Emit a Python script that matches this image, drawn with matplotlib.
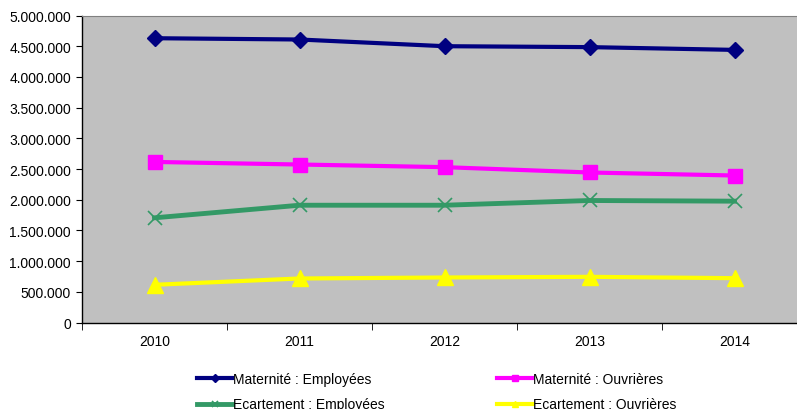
import matplotlib
matplotlib.use("Agg")
import matplotlib.pyplot as plt
from matplotlib.ticker import FuncFormatter, FixedLocator

plt.rcParams['font.family'] = ['Liberation Sans', 'DejaVu Sans']

years = ['2010', '2011', '2012', '2013', '2014']
mat_employees = [4630000, 4609000, 4500000, 4485000, 4440000]
mat_ouvrieres = [2615000, 2573000, 2530000, 2443000, 2394000]
ecart_employees = [1705000, 1910000, 1910000, 1987000, 1976000]
ecart_ouvrieres = [614000, 717000, 733000, 744000, 722000]

labels = ['Maternité : Employées', 'Maternité : Ouvrières',
          'Ecartement : Employées', 'Ecartement : Ouvrières']

W, H = 797, 410
fig = plt.figure(figsize=(W / 100, H / 100), dpi=100)
ax = fig.add_axes([82 / W, (H - 323.5) / H, 725 / W, 307 / H])
ax.set_facecolor('#C0C0C0')

x = list(range(len(years)))
l1, = ax.plot(x, mat_employees, color='#000080', lw=3, marker='D', ms=8.5,
              mec='#000080', mfc='#000080')
l2, = ax.plot(x, mat_ouvrieres, color='#FF00FF', lw=3, marker='s', ms=10,
              mec='#FF00FF', mfc='#FF00FF')
l3, = ax.plot(x, ecart_employees, color='#339966', lw=3.5, marker='x', ms=10,
              mew=1.2, mec='#339966')
l4, = ax.plot(x, ecart_ouvrieres, color='#FFFF00', lw=3, marker='^', ms=11,
              mec='#FFFF00', mfc='#FFFF00')

ax.set_xlim(-0.5, 4.5)
ax.set_ylim(0, 5000000)
ax.set_yticks(range(0, 5000001, 500000))
ax.yaxis.set_major_formatter(FuncFormatter(lambda v, p: f"{int(v):,}".replace(',', '.')))
ax.set_xticks(x)
ax.set_xticklabels(years)
ax.xaxis.set_minor_locator(FixedLocator([i - 0.5 for i in range(6)]))
ax.tick_params(axis='x', which='major', length=0, pad=8, labelsize=10)
ax.tick_params(axis='x', which='minor', length=5, direction='out', color='black')
ax.tick_params(axis='y', length=4, direction='out', labelsize=10, pad=4)

ax.spines['left'].set_color('black')
ax.spines['bottom'].set_color('black')
ax.spines['left'].set_linewidth(1)
ax.spines['bottom'].set_linewidth(1)
ax.spines['top'].set_color('#808080')
ax.spines['right'].set_color('#808080')

common = dict(loc='upper left', frameon=False, fontsize=10, handlelength=2.55,
              handletextpad=0.05, borderpad=0, borderaxespad=0, labelspacing=0.82,
              markerscale=0.45)
leg1 = fig.legend([l1, l3], [labels[0], labels[2]],
                  bbox_to_anchor=(197 / W, 1 - 373 / H), **common)
leg2 = fig.legend([l2, l4], [labels[1], labels[3]],
                  bbox_to_anchor=(497 / W, 1 - 373 / H), **common)

fig.savefig('out.png', dpi=100, facecolor='white')
